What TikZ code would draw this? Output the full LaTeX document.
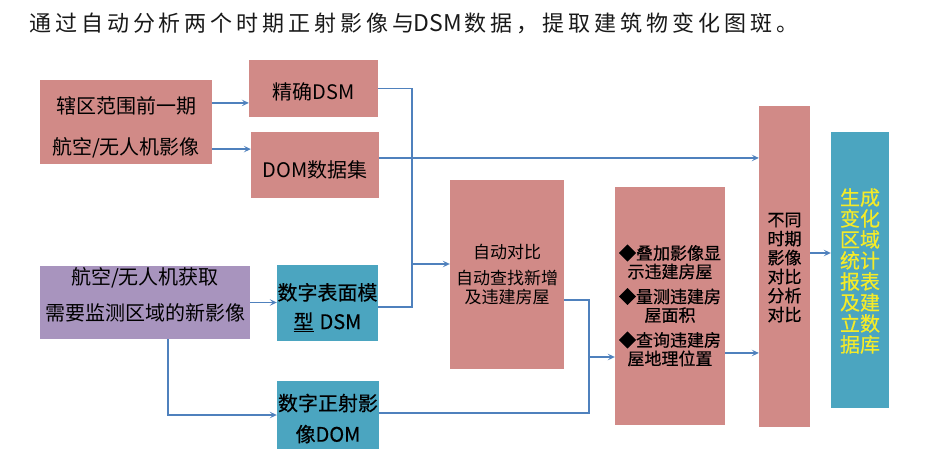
\documentclass[tikz,border=0pt]{standalone}
\usepackage{fontspec}
\setmainfont{Noto Sans CJK SC}
\newfontfamily\titlefont[LetterSpace=18]{Noto Sans CJK SC}
\newfontfamily\heiti[FakeBold=0.5]{Noto Sans CJK SC}
\usetikzlibrary{arrows.meta,calc}
\definecolor{boxpink}{RGB}{209,138,135}
\definecolor{boxteal}{RGB}{75,165,192}
\definecolor{boxpurple}{RGB}{168,148,190}
\definecolor{linkblue}{RGB}{79,129,189}
\definecolor{txtyellow}{RGB}{245,235,40}
\definecolor{titlegray}{RGB}{25,25,25}
\tikzset{
  pinkbox/.style={fill=boxpink, draw=none, inner sep=0pt},
  tealbox/.style={fill=boxteal, draw=none, inner sep=0pt},
  purplebox/.style={fill=boxpurple, draw=none, inner sep=0pt},
  txt/.style={inner sep=0pt, align=center, text=black},
  link/.style={draw=linkblue, line width=1.3pt},
  arr/.style={link, -{Stealth[length=7pt,width=6.5pt,inset=3pt]}}
}
\begin{document}
\begin{tikzpicture}[x=1pt,y=-1pt]
\useasboundingbox (0,0) rectangle (950,464);
\fill[white] (0,0) rectangle (950,464);

% title
\node[anchor=west, inner sep=0pt, text=titlegray, font=\titlefont\fontsize{22}{26}\selectfont] (title) at (29,23)
  {通过自动分析两个时期正射影像与\hspace{-1pt}{\normalfont\fontsize{23}{26}\selectfont DSM}\hspace{3pt}数据，提取建筑物变化图斑。};

% boxes
\node[pinkbox, minimum width=172pt, minimum height=84pt] (A) at (126,122) {};
\node[pinkbox, minimum width=129pt, minimum height=57pt] (DSM1) at (313.5,88.5) {};
\node[pinkbox, minimum width=128pt, minimum height=66pt] (DOM1) at (315,165) {};
\node[purplebox, minimum width=210pt, minimum height=73pt] (P) at (145,302.5) {};
\node[tealbox, minimum width=101pt, minimum height=76pt] (DSM2) at (327.5,303) {};
\node[tealbox, minimum width=102pt, minimum height=68pt] (DOM2) at (328,415) {};
\node[pinkbox, minimum width=114pt, minimum height=189pt] (C) at (507,274.5) {};
\node[pinkbox, minimum width=110pt, minimum height=238pt] (D) at (670,306) {};
\node[pinkbox, minimum width=51pt, minimum height=321pt] (E) at (784.5,266.5) {};
\node[tealbox, minimum width=58pt, minimum height=276pt] (F) at (860,270) {};

% texts
\node[txt, font=\fontsize{20}{41}\selectfont] (At) at (126,127.5) {辖区范围前一期\\航空/无人机影像};
\node[txt, font=\fontsize{20}{24}\selectfont] (DSM1t) at (313.5,92) {精确DSM};
\node[txt, font=\fontsize{20}{24}\selectfont] (DOM1t) at (315,170) {DOM数据集};
\node[txt, font=\fontsize{20}{36}\selectfont] (Pt) at (145,295) {航空/无人机获取\\需要监测区域的新影像};
\node[txt, font=\heiti\fontsize{20}{29}\selectfont] (DSM2t) at (327.5,307.5) {数字表面模\\\underline{型}\hspace{6pt}DSM};
\node[txt, font=\heiti\fontsize{20}{31}\selectfont] (DOM2t) at (328,418.5) {数字正射影\\像DOM};
\node[txt, font=\fontsize{17}{19}\selectfont] (Ct) at (507,274.5) {自动对比\\[7pt]自动查找新增\\及违建房屋};
\node[txt, font=\heiti\fontsize{17}{18.5}\selectfont] (Dt) at (670,305.5)
  {◆叠加影像显\\示违建房屋\\[6.5pt]◆量测违建房\\屋面积\\[6.5pt]◆查询违建房\\屋地理位置};
\node[txt, font=\heiti\fontsize{17}{19}\selectfont] (Et) at (784.5,267.5) {不同\\时期\\影像\\对比\\分析\\对比};
\node[txt, text=txtyellow, font=\heiti\fontsize{20}{21}\selectfont] (Ft) at (860,271)
  {生成\\变化\\区域\\统计\\报表\\及建\\立数\\据库};

% connector points
\coordinate (a1) at ($(A.north east)!0.274!(A.south east)$);
\coordinate (a2) at ($(A.north east)!0.821!(A.south east)$);
\coordinate (d1) at ($(DOM1.north east)!0.394!(DOM1.south east)$);
\coordinate (s2) at ($(DSM2.east)+(0,4)$);
\coordinate (j1) at (412,264);
\coordinate (p1) at ($(P.south west)!0.61!(P.south east)$);
\coordinate (c1) at ($(C.north east)!0.635!(C.south east)$);
\coordinate (o2) at ($(DOM2.east)+(0,-2)$);
\coordinate (j2) at (589,357);
\coordinate (e1) at ($(D.north east)!0.697!(D.south east)$);
\coordinate (f1) at ($(E.north east)!0.458!(E.south east)$);

% connectors
\draw[arr] (a1) -- (a1 -| DSM1.west);
\draw[arr] (a2) -- (a2 -| DOM1.west);
\draw[link] (DSM1.east) -| (j1 |- s2) -- (s2);
\draw[arr] (j1) -- (j1 -| C.west);
\draw[arr] (d1) -- (d1 -| E.west);
\draw[arr] (P.east) -- (P.east -| DSM2.west);
\draw[arr] (p1) |- (DOM2.west);
\draw[link] (c1) -| (j2 |- o2) -- (o2);
\draw[arr] (j2) -- (j2 -| D.west);
\draw[arr] (e1) -- (e1 -| E.west);
\draw[arr] (f1) -- (f1 -| F.west);
\end{tikzpicture}
\end{document}
